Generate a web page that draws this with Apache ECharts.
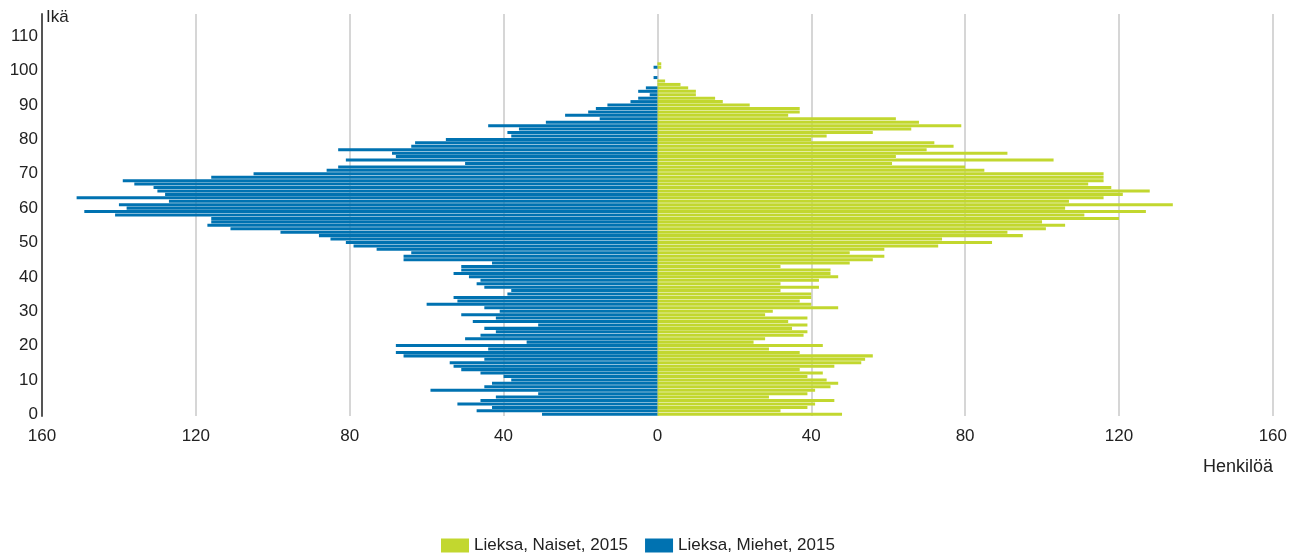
<!DOCTYPE html>
<html lang="fi">
<head>
	<meta charset="utf-8" />
	<title>Lieksa 2015</title>
	<style type="text/css">
		html,body{margin:0;padding:0;background:#fff;}
		#chart{width:1290px;height:553px;}
	</style>
</head>
<body>
	<div id="chart"></div>
<script src="https://cdn.jsdelivr.net/npm/echarts@6.0.0/dist/echarts.min.js"></script>
<script>
	// ikä 0..116, akselin yläpää jatkuu 110:n yli
	var ages = [];
	for (var i = 0; i <= 116; i++) { ages.push(String(i)); }

	// Lieksa, Naiset, 2015 (ikä 0 alkaen)
	var naiset = [
		48, 32, 39, 41, 46, 29, 39, 41, 45, 47,
		44, 39, 43, 37, 46, 53, 54, 56, 37, 29,
		43, 25, 28, 38, 39, 35, 39, 34, 39, 28,
		30, 47, 40, 37, 40, 40, 32, 42, 32, 42,
		47, 45, 45, 32, 50, 56, 59, 50, 59, 73,
		87, 74, 95, 91, 101, 106, 100, 120, 111, 127,
		106, 134, 107, 116, 121, 128, 118, 112, 116, 116,
		116, 85, 80, 61, 103, 62, 91, 70, 77, 72,
		40, 44, 56, 66, 79, 68, 62, 34, 37, 37,
		24, 17, 15, 10, 10, 8, 6, 2, 0, 0,
		0, 1, 1
	];

	// Lieksa, Miehet, 2015
	var miehet = [
		30, 47, 43, 52, 46, 42, 31, 59, 45, 43,
		38, 40, 46, 51, 53, 54, 45, 66, 68, 44,
		68, 34, 50, 46, 42, 45, 31, 48, 42, 51,
		41, 45, 60, 52, 53, 39, 38, 45, 47, 46,
		49, 53, 51, 51, 43, 66, 66, 64, 73, 79,
		81, 85, 88, 98, 111, 117, 116, 116, 141, 149,
		138, 140, 127, 151, 128, 130, 131, 136, 139, 116,
		105, 86, 83, 50, 81, 68, 69, 83, 64, 63,
		55, 38, 39, 36, 44, 29, 15, 24, 18, 16,
		13, 7, 5, 2, 5, 3, 0, 0, 1, 0,
		0, 1, 0
	];

	var chart = echarts.init(document.getElementById('chart'));
	var font = 'Liberation Sans, Arial, sans-serif';

	chart.setOption({
		animation: false,
		textStyle: { fontFamily: font },
		title: {
			text: 'Henkilöä',
			right: 17,
			top: 458,
			padding: 0,
			textStyle: { fontSize: 18, fontWeight: 'normal', color: '#222', fontFamily: font }
		},
		legend: {
			data: ['Lieksa, Naiset, 2015', 'Lieksa, Miehet, 2015'],
			top: 537,
			left: 441,
			padding: 0,
			itemWidth: 28,
			itemHeight: 14,
			itemGap: 17,
			icon: 'rect',
			textStyle: { fontSize: 17, color: '#222' }
		},
		grid: { left: 42, right: 16, top: 14, bottom: 137 },
		xAxis: {
			type: 'value',
			min: -160,
			max: 160,
			interval: 40,
			axisLine: { show: false },
			axisTick: { show: false },
			splitLine: { lineStyle: { color: '#c8c8c8', width: 1.5 } },
			axisLabel: {
				fontSize: 17,
				color: '#222',
				margin: 12,
				formatter: function (v) { return Math.abs(v); }
			}
		},
		yAxis: {
			type: 'category',
			data: ages,
			name: 'Ikä',
			nameLocation: 'end',
			nameGap: -12,
			nameTextStyle: { fontSize: 17, color: '#222', align: 'left', padding: [0, 0, 0, 4] },
			axisLine: { onZero: false, lineStyle: { color: '#555', width: 2 } },
			axisTick: { show: false },
			axisLabel: {
				fontSize: 17,
				color: '#222',
				margin: 4,
				interval: function (index) { return index % 10 === 0; }
			}
		},
		series: [{
			name: 'Lieksa, Naiset, 2015',
			type: 'bar',
			barGap: '-100%',
			barCategoryGap: '12%',
			itemStyle: { color: '#c2d72f' },
			data: naiset
		}, {
			name: 'Lieksa, Miehet, 2015',
			type: 'bar',
			barGap: '-100%',
			barCategoryGap: '12%',
			itemStyle: { color: '#0072b1' },
			data: miehet.map(function (v) { return -v; })
		}]
	});
</script>
</body>
</html>
